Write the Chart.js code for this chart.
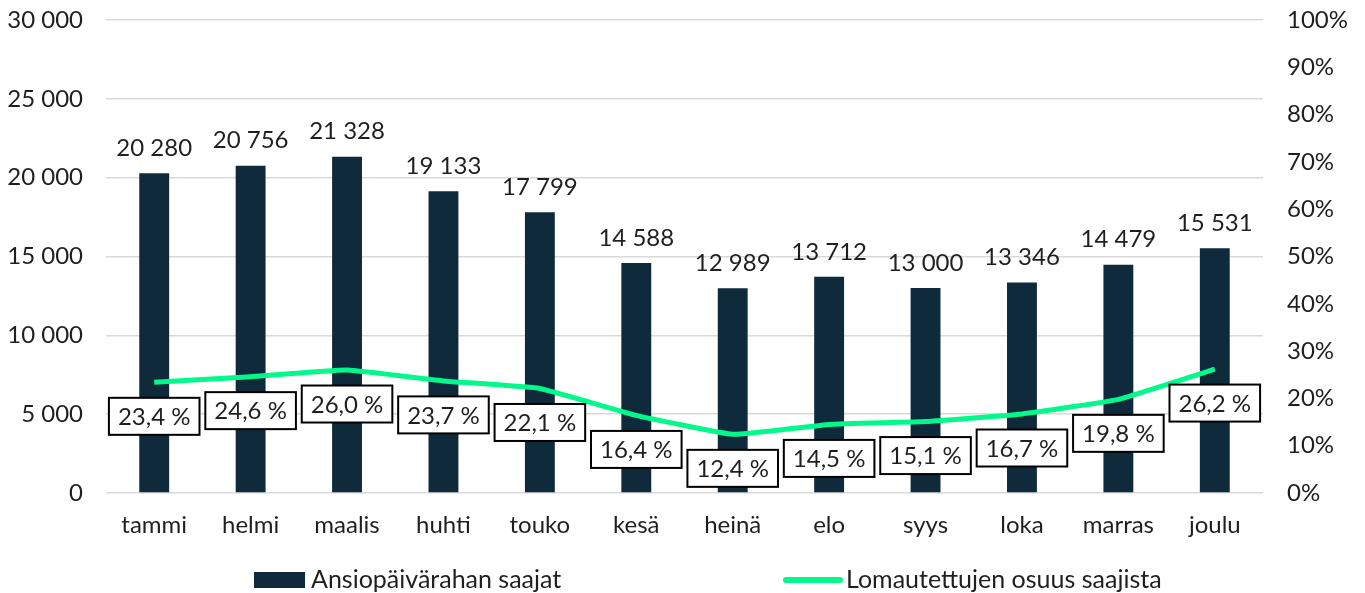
<!DOCTYPE html>
<html>
<head>
<meta charset="utf-8">
<script src="https://cdn.jsdelivr.net/npm/chart.js@4.4.1/dist/chart.umd.min.js"></script>
<style>
html,body{margin:0;padding:0;background:#fff;}
#wrap{width:1365px;height:593px;position:relative;}
</style>
</head>
<body>
<div id="wrap"><canvas id="c" width="1365" height="593"></canvas></div>
<script>
const categories = ["tammi","helmi","maalis","huhti","touko","kesä","heinä","elo","syys","loka","marras","joulu"];
const recipients = [20280, 20756, 21328, 19133, 17799, 14588, 12989, 13712, 13000, 13346, 14479, 15531];
const laidOffShare = [23.4, 24.6, 26.0, 23.7, 22.1, 16.4, 12.4, 14.5, 15.1, 16.7, 19.8, 26.2];
const seriesNames = ["Ansiopäivärahan saajat", "Lomautettujen osuus saajista"];

const FONT = "Lato, 'Noto Sans', sans-serif";
const FS = 24;
const TXT = '#1f1f1f';
const BAR = '#0f2a3b';
const GREEN = '#00F98A';

function fmtThousands(v){
  return String(Math.round(v)).replace(/\B(?=(\d{3})+(?!\d))/g, ' ');
}
function fmtPct(v){
  return v.toFixed(1).replace('.', ',') + ' %';
}
function noPad(s){
  s.paddingTop = 0; s.paddingBottom = 0; s.paddingLeft = 0; s.paddingRight = 0;
}

const labelsPlugin = {
  id: 'customLabels',
  afterDatasetsDraw(chart){
    const ctx = chart.ctx;
    ctx.save();
    ctx.font = FS + 'px ' + FONT;
    ctx.textAlign = 'center';
    ctx.textBaseline = 'middle';
    const barMeta = chart.getDatasetMeta(0);
    barMeta.data.forEach((el, i) => {
      ctx.fillStyle = TXT;
      ctx.fillText(fmtThousands(recipients[i]), el.x, el.y - 25);
    });
    const lineMeta = chart.getDatasetMeta(1);
    lineMeta.data.forEach((el, i) => {
      const t = fmtPct(laidOffShare[i]);
      const w = ctx.measureText(t).width + 18;
      const h = 37;
      const cx = el.x, cy = el.y + 34;
      ctx.fillStyle = '#fff';
      ctx.fillRect(cx - w/2, cy - h/2, w, h);
      ctx.lineWidth = 2;
      ctx.strokeStyle = '#000';
      ctx.strokeRect(cx - w/2, cy - h/2, w, h);
      ctx.fillStyle = TXT;
      ctx.fillText(t, cx, cy + 1);
    });
    ctx.restore();
  },
  afterDraw(chart){
    const ctx = chart.ctx;
    ctx.save();
    ctx.font = '25px ' + FONT;
    ctx.textBaseline = 'middle';
    ctx.textAlign = 'left';
    const y = 580;
    ctx.fillStyle = BAR;
    ctx.fillRect(254, y - 8, 51, 16);
    ctx.fillStyle = TXT;
    ctx.fillText(seriesNames[0], 311, y);
    ctx.strokeStyle = GREEN;
    ctx.lineWidth = 6;
    ctx.lineCap = 'round';
    ctx.beginPath();
    ctx.moveTo(786, y);
    ctx.lineTo(840, y);
    ctx.stroke();
    ctx.fillStyle = TXT;
    ctx.fillText(seriesNames[1], 846, y);
    ctx.restore();
  }
};

new Chart(document.getElementById('c'), {
  data: {
    labels: categories,
    datasets: [
      {
        type: 'bar',
        label: seriesNames[0],
        data: recipients,
        backgroundColor: BAR,
        yAxisID: 'y',
        barPercentage: 0.31,
        categoryPercentage: 1.0,
        order: 1
      },
      {
        type: 'line',
        label: seriesNames[1],
        data: laidOffShare,
        borderColor: GREEN,
        backgroundColor: GREEN,
        borderWidth: 5,
        pointRadius: 0,
        tension: 0.1,
        yAxisID: 'y1',
        order: 0
      }
    ]
  },
  options: {
    responsive: false,
    animation: false,
    devicePixelRatio: 1,
    layout: { padding: { top: 20, bottom: 50, left: 0, right: 0 } },
    plugins: { legend: { display: false }, tooltip: { enabled: false } },
    scales: {
      x: {
        grid: { display: false, drawTicks: false },
        border: { display: false },
        ticks: { font: { family: FONT, size: FS }, color: TXT, padding: 18 },
        afterFit(s){ s.height = 50; noPad(s); }
      },
      y: {
        position: 'left',
        min: 0, max: 30000,
        ticks: {
          stepSize: 5000,
          font: { family: FONT, size: FS }, color: TXT, padding: 23,
          callback: v => fmtThousands(v)
        },
        grid: { color: '#d9d9d9', lineWidth: 1.5, drawTicks: false },
        border: { display: false },
        afterFit(s){ s.width = 106; noPad(s); }
      },
      y1: {
        position: 'right',
        min: 0, max: 100,
        ticks: {
          stepSize: 10,
          font: { family: FONT, size: FS }, color: TXT, padding: 24,
          callback: v => v + '%'
        },
        grid: { display: false, drawTicks: false },
        border: { display: false },
        afterFit(s){ s.width = 102; noPad(s); }
      }
    }
  },
  plugins: [labelsPlugin]
});
</script>
</body>
</html>
